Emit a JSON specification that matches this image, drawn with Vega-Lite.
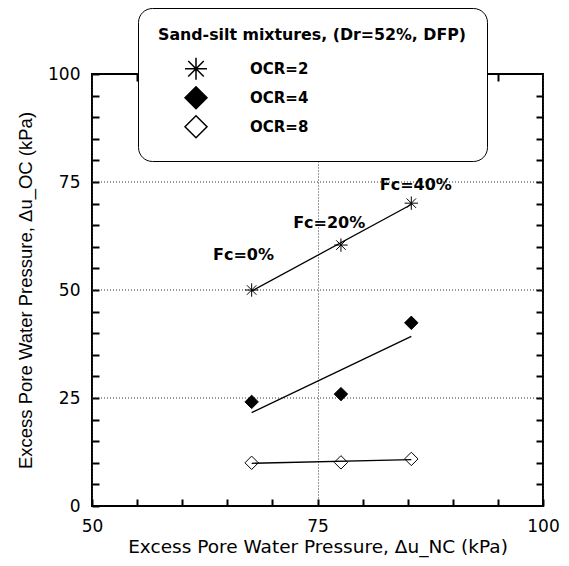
{
  "$schema": "https://vega.github.io/schema/vega-lite/v6.json",
  "width": 451,
  "height": 432,
  "autosize": {"type": "none"},
  "padding": {"left": 92, "top": 74, "right": 26, "bottom": 60},
  "background": "white",
  "config": {"view": {"stroke": "black", "strokeWidth": 2}},
  "datasets": {
    "pts": [
      {"OCR": "OCR=2", "Fc": "0%", "x": 67.7, "y": 50.0},
      {"OCR": "OCR=2", "Fc": "20%", "x": 77.6, "y": 60.4},
      {"OCR": "OCR=2", "Fc": "40%", "x": 85.4, "y": 70.1},
      {"OCR": "OCR=4", "Fc": "0%", "x": 67.7, "y": 24.1},
      {"OCR": "OCR=4", "Fc": "20%", "x": 77.6, "y": 25.9},
      {"OCR": "OCR=4", "Fc": "40%", "x": 85.4, "y": 42.4},
      {"OCR": "OCR=8", "Fc": "0%", "x": 67.7, "y": 10.0},
      {"OCR": "OCR=8", "Fc": "20%", "x": 77.6, "y": 10.1},
      {"OCR": "OCR=8", "Fc": "40%", "x": 85.4, "y": 10.9}
    ],
    "labels": [
      {"label": "Fc=0%", "x": 66.8, "y": 58.1},
      {"label": "Fc=20%", "x": 76.3, "y": 65.6},
      {"label": "Fc=40%", "x": 85.9, "y": 74.3}
    ],
    "hgrid": [{"g": 25}, {"g": 50}, {"g": 75}]
  },
  "layer": [
    {
      "data": {"name": "hgrid"},
      "mark": {"type": "rule", "color": "#333", "strokeWidth": 1, "strokeDash": [1, 2]},
      "encoding": {
        "y": {"field": "g", "type": "quantitative", "scale": {"domain": [0, 100], "nice": false, "zero": false}, "axis": null}
      }
    },
    {
      "data": {"name": "pts"},
      "mark": {"type": "point", "filled": false, "color": "black", "strokeWidth": 1, "size": 180, "opacity": 1},
      "encoding": {
        "x": {
          "field": "x", "type": "quantitative",
          "scale": {"domain": [50, 100], "nice": false, "zero": false},
          "axis": {
            "orient": "bottom",
            "values": [50, 55, 60, 65, 70, 75, 80, 85, 90, 95, 100],
            "labelExpr": "datum.value % 25 === 0 ? datum.label : ''",
            "labelOverlap": false, "labelFlush": false,
            "title": "Excess Pore Water Pressure, Δu_NC (kPa)",
            "grid": true, "gridColor": "#333", "gridDash": [1, 2], "gridWidth": 1,
            "gridOpacity": {"condition": {"test": "datum.value % 25 === 0", "value": 1}, "value": 0},
            "ticks": true, "offset": -7, "tickSize": 7, "tickColor": "black", "tickWidth": 2,
            "domain": false,
            "labelPadding": 12, "labelFont": "DejaVu Sans", "labelFontSize": 17, "labelColor": "black",
            "titleFont": "DejaVu Sans", "titleFontSize": 18.5, "titleFontWeight": "normal", "titleColor": "black",
            "titlePadding": 3
          }
        },
        "y": {
          "field": "y", "type": "quantitative",
          "scale": {"domain": [0, 100], "nice": false, "zero": false},
          "axis": {
            "orient": "left",
            "values": [0, 5, 10, 15, 20, 25, 30, 35, 40, 45, 50, 55, 60, 65, 70, 75, 80, 85, 90, 95, 100],
            "labelExpr": "datum.value % 25 === 0 ? datum.label : ''",
            "labelOverlap": false, "labelFlush": false,
            "title": "Excess Pore Water Pressure, Δu_OC (kPa)",
            "grid": false,
            "ticks": true, "offset": -7, "tickSize": 7, "tickColor": "black", "tickWidth": 2,
            "domain": false,
            "labelPadding": 12, "labelFont": "DejaVu Sans", "labelFontSize": 17, "labelColor": "black",
            "titleFont": "Liberation Sans", "titleFontSize": 18.5, "titleFontWeight": "normal", "titleColor": "black",
            "titlePadding": 12
          }
        },
        "shape": {
          "field": "OCR", "type": "nominal",
          "scale": {
            "domain": ["OCR=2", "OCR=4", "OCR=8"],
            "range": ["M-1,0H1M0,-1V1M-0.7071,-0.7071L0.7071,0.7071M-0.7071,0.7071L0.7071,-0.7071", "diamond", "diamond"]
          },
          "legend": {
            "orient": "none", "legendX": 46, "legendY": -66,
            "title": "Sand-silt mixtures, (Dr=52%, DFP)",
            "titleLimit": 500, "labelLimit": 200,
            "titleFont": "DejaVu Sans", "titleFontSize": 15.8, "titleFontWeight": "bold", "titleColor": "black",
            "labelFont": "DejaVu Sans", "labelFontSize": 15, "labelFontWeight": "bold", "labelColor": "black",
            "symbolSize": 484, "symbolOffset": 26, "labelOffset": 42,
            "padding": 20, "rowPadding": 1, "titlePadding": 13,
            "strokeColor": "black", "cornerRadius": 14, "fillColor": "white",
            "encode": {"symbols": {"update": {"stroke": {"value": "black"}, "strokeWidth": {"value": 1}}}}
          }
        },
        "fill": {
          "field": "OCR", "type": "nominal",
          "scale": {"domain": ["OCR=2", "OCR=4", "OCR=8"], "range": ["black", "black", "white"]}
        },
        "stroke": {"value": "black"}
      }
    },
    {
      "data": {"name": "pts"},
      "transform": [{"regression": "y", "on": "x", "groupby": ["OCR"]}],
      "mark": {"type": "line", "color": "black", "strokeWidth": 1.3},
      "encoding": {
        "x": {
          "field": "x", "type": "quantitative",
          "scale": {"domain": [50, 100], "nice": false, "zero": false},
          "axis": {
            "orient": "top",
            "values": [55, 60, 65, 70, 75, 80, 85, 90, 95],
            "labels": false, "title": null, "grid": false,
            "ticks": true, "offset": -7, "tickSize": 7, "tickColor": "black", "tickWidth": 2,
            "domain": false
          }
        },
        "y": {
          "field": "y", "type": "quantitative",
          "scale": {"domain": [0, 100], "nice": false, "zero": false},
          "axis": {
            "orient": "right",
            "values": [5, 10, 15, 20, 25, 30, 35, 40, 45, 50, 55, 60, 65, 70, 75, 80, 85, 90, 95],
            "labels": false, "title": null, "grid": false,
            "ticks": true, "offset": -7, "tickSize": 7, "tickColor": "black", "tickWidth": 2,
            "domain": false
          }
        },
        "detail": {"field": "OCR", "type": "nominal"}
      }
    },
    {
      "data": {"name": "labels"},
      "mark": {"type": "text", "font": "DejaVu Sans", "fontSize": 16, "fontWeight": "bold", "color": "black", "align": "center", "baseline": "middle"},
      "encoding": {
        "x": {"field": "x", "type": "quantitative", "axis": null},
        "y": {"field": "y", "type": "quantitative", "axis": null},
        "text": {"field": "label", "type": "nominal"}
      }
    }
  ],
  "resolve": {"axis": {"x": "independent", "y": "independent"}}
}
